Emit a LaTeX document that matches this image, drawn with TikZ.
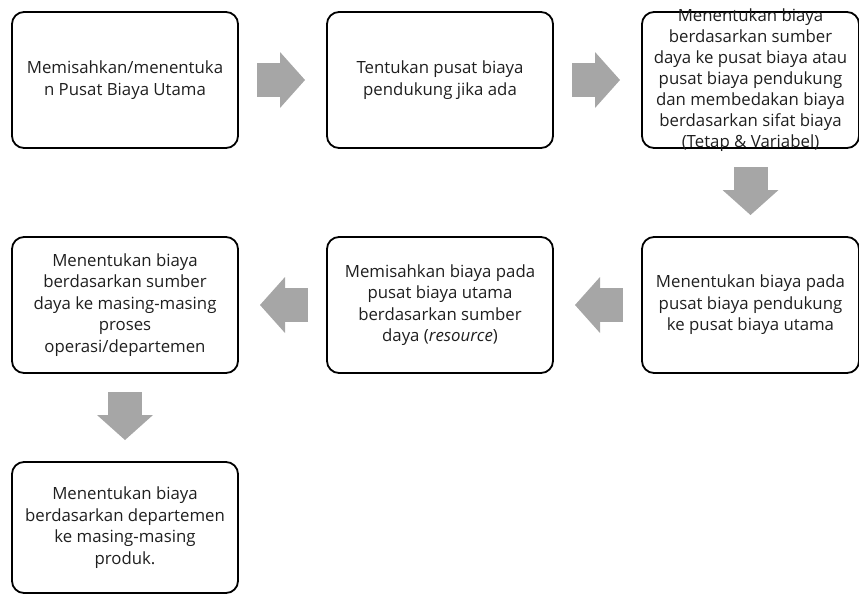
\documentclass[tikz,border=0pt]{standalone}
\usepackage{fontspec}
\setmainfont{Open Sans}
\usetikzlibrary{arrows.meta,positioning}

\begin{document}
\begin{tikzpicture}[x=1pt,y=-1pt,node distance=89pt,
box/.style={rectangle,rounded corners=12pt,draw=black,line width=1.8pt,
  minimum width=226pt,minimum height=136pt,outer sep=0pt,
  align=center,font=\fontsize{16.8}{21.5}\selectfont,text=black!88},
boxtext/.style={align=center,font=\fontsize{16.8}{21}\selectfont,text=black!88},
flow/.style={draw=black!35,line width=34pt,shorten <=19pt,shorten >=22pt,
  -{Triangle[width=56pt,length=25pt,line width=0pt]}}]
\useasboundingbox (0,0) rectangle (859,595);
\node[box] (b1) at (125,80) {Memisahkan/menentuka\\n Pusat Biaya Utama};
\node[box] (b2) [right=of b1] {Tentukan pusat biaya\\pendukung jika ada};
\node[box,minimum width=217pt] (b3) [right=of b2] {};
\node[boxtext] (t3) at (b3) {Menentukan biaya\\berdasarkan sumber\\daya ke pusat biaya atau\\pusat biaya pendukung\\dan membedakan biaya\\berdasarkan sifat biaya\\(Tetap \& Variabel)};
\node[box,minimum width=217pt] (b6) [below=of b3] {Menentukan biaya pada\\pusat biaya pendukung\\ke pusat biaya utama};
\node[box] (b5) [left=of b6] {Memisahkan biaya pada\\pusat biaya utama\\berdasarkan sumber\\daya (\textit{resource})};
\node[box] (b4) [left=of b5] {Menentukan biaya\\berdasarkan sumber\\daya ke masing-masing\\proses\\operasi/departemen};
\node[box,minimum height=131pt] (b7) [below=of b4] {Menentukan biaya\\berdasarkan departemen\\ke masing-masing\\produk.};
% arrows between the steps
\draw[flow] (b1) -- (b2);
\draw[flow] (b2) -- (b3);
\draw[flow] (b3) -- (b6);
\draw[flow] (b6) -- (b5);
\draw[flow] (b5) -- (b4);
\draw[flow] (b4) -- (b7);
\end{tikzpicture}
\end{document}
